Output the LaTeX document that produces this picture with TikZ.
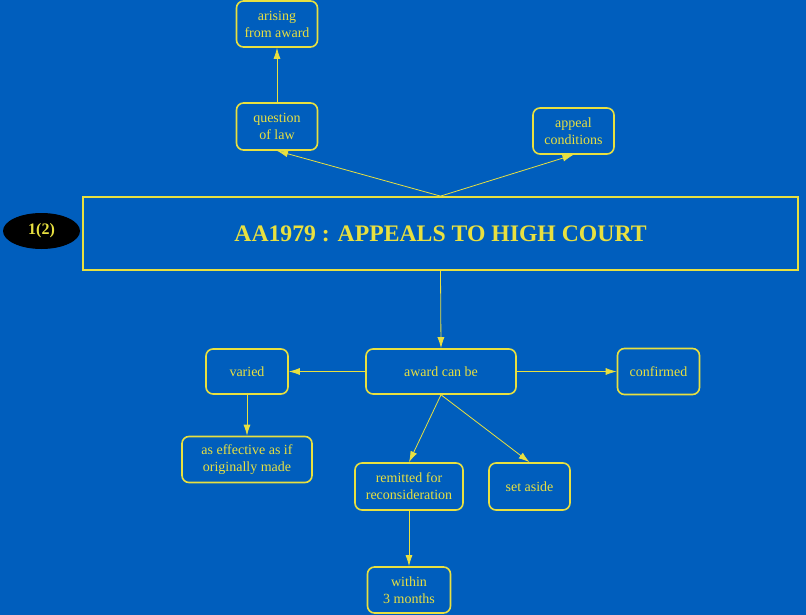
\documentclass[tikz,border=0pt]{standalone}
\usepackage{fontspec}
\setmainfont{Liberation Serif}
\usetikzlibrary{arrows.meta,shapes.geometric}
\definecolor{bgblue}{RGB}{0,94,189}
\definecolor{hiyellow}{RGB}{232,224,64}

\begin{document}
\begin{tikzpicture}[x=1pt,y=-1pt,
    box/.style={draw=hiyellow, line width=1.6pt, rounded corners=7pt, text=hiyellow,
      align=center, inner sep=0pt, font=\fontsize{14}{17}\selectfont},
    link/.style={draw=hiyellow, line width=0.8pt, -{Latex[length=11pt,width=7pt]}}]
    % Background
    \fill[bgblue] (0,0) rectangle (806,615);

    % Title and page tag
    \node[draw=hiyellow, line width=1.8pt, minimum width=715pt, minimum height=73pt, inner sep=0pt,
      text=hiyellow, font=\fontsize{23.7}{28}\selectfont\bfseries] (title) at (440.5,233.5) {AA1979 : APPEALS TO HIGH COURT};
    \node[ellipse, fill=black, minimum width=77pt, minimum height=36pt, inner sep=0pt,
      text=hiyellow, font=\fontsize{16}{19}\selectfont\bfseries] (tag) at (41.5,231) {1(2)};

    % Upper branch
    \node[box, minimum width=81pt, minimum height=46pt] (arising) at (277,24) {arising\\from award};
    \node[box, minimum width=81pt, minimum height=47pt] (question) at (277,126.5) {question\\of law};
    \node[box, minimum width=81pt, minimum height=46pt] (appeal) at (573.5,131) {appeal\\conditions};

    % Lower branch
    \node[box, minimum width=150pt, minimum height=45pt] (award) at (441,371.5) {award can be};
    \node[box, minimum width=82pt, minimum height=45pt] (varied) at (247,371.5) {varied};
    \node[box, minimum width=82pt, minimum height=46pt] (confirmed) at (658.5,371.5) {confirmed};
    \node[box, minimum width=130pt, minimum height=46pt] (effective) at (247,459.5) {as effective as if\\originally made};
    \node[box, minimum width=108pt, minimum height=47pt] (remitted) at (409,486.5) {remitted for\\reconsideration};
    \node[box, minimum width=81pt, minimum height=47pt] (aside) at (529.5,486.5) {set aside};
    \node[box, minimum width=83pt, minimum height=46pt] (within) at (409,590) {within\\3 months};

    % Connectors
    \draw[link] (title.north) -- (question.south);
    \draw[link] (title.north) -- (appeal.south);
    \draw[link] (question.north) -- (arising.south);
    \draw[link] (title.south) -- (award.north);
    \draw[link] (award.west) -- (varied.east);
    \draw[link] (award.east) -- (confirmed.west);
    \draw[link] (varied.south) -- (effective.north);
    \draw[link] (award.south) -- (remitted.north);
    \draw[link] (award.south) -- (aside.north);
    \draw[link] (remitted.south) -- (within.north);
\end{tikzpicture}
\end{document}
